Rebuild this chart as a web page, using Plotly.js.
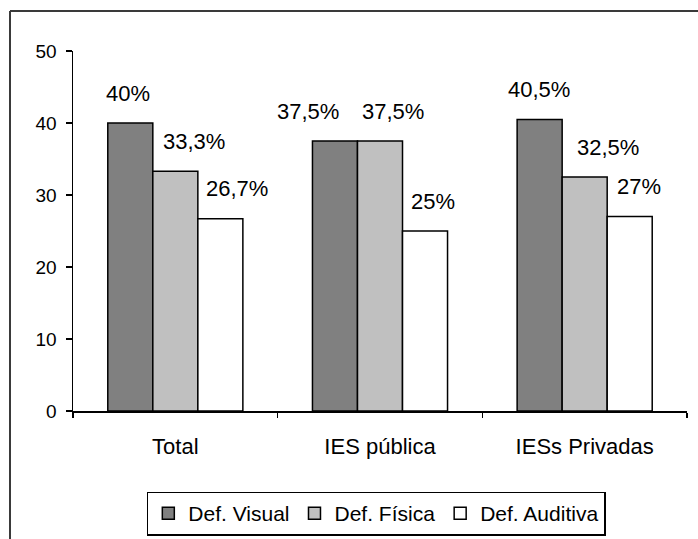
<!DOCTYPE html>
<html>
<head>
<meta charset="utf-8">
<script src="https://cdn.plot.ly/plotly-3.0.1.min.js"></script>
<style>html,body{margin:0;padding:0;background:#fff;}#chart{width:698px;height:539px;}</style>
</head>
<body>
<div id="chart"></div>
<script>
var categories = ["Total", "IES pública", "IESs Privadas"];
var seriesNames = ["Def. Visual", "Def. Física", "Def. Auditiva"];
var defVisual = [40, 37.5, 40.5];
var defFisica = [33.3, 37.5, 32.5];
var defAuditiva = [26.7, 25, 27];
var yTicks = [0, 10, 20, 30, 40, 50];

// styling
var colors = ["#808080", "#c0c0c0", "#ffffff"];
var labelNudge = [[-2, -27, -1], [19, 13, 23], [17, 8, 9]];
var FONT = "Liberation Sans, Arial, sans-serif";

var allSeries = [defVisual, defFisica, defAuditiva];
var traces = allSeries.map(function (vals, i) {
  return {
    type: "bar", name: seriesNames[i], x: categories, y: vals,
    marker: { color: colors[i], line: { color: "#000", width: 1.5 } },
    hoverinfo: "skip"
  };
});

function fmt(v) { return String(v).replace(".", ",") + "%"; }

var barPx = 45;
var annotations = [];
allSeries.forEach(function (vals, i) {
  vals.forEach(function (v, j) {
    annotations.push({
      x: categories[j], y: v, xref: "x", yref: "y", text: fmt(v), showarrow: false,
      xanchor: "center", yanchor: "middle",
      xshift: (i - 1) * barPx + labelNudge[i][j], yshift: 30,
      font: { family: FONT, size: 22, color: "#000" }
    });
  });
});

var layout = {
  width: 698, height: 539,
  margin: { l: 73, r: 11, t: 51, b: 128, autoexpand: false },
  paper_bgcolor: "#fff", plot_bgcolor: "#fff",
  barmode: "group", bargap: 0.34, bargroupgap: 0,
  showlegend: true,
  legend: {
    orientation: "h", x: 0.494, xanchor: "center", y: -0.224, yanchor: "top",
    bordercolor: "#000", borderwidth: 1.5, bgcolor: "#fff",
    font: { family: FONT, size: 21, color: "#000" }, traceorder: "normal",
    itemwidth: 30
  },
  xaxis: {
    type: "category", showline: true, linecolor: "#000", linewidth: 1.5, automargin: false,
    ticks: "outside", tickson: "boundaries", ticklen: 5, tickcolor: "#000", tickwidth: 1.5,
    showgrid: false, zeroline: false, ticklabelstandoff: 15,
    tickfont: { family: FONT, size: 22, color: "#000" }
  },
  yaxis: {
    range: [0, 50], tickvals: yTicks, showline: true, linecolor: "#000", linewidth: 1.5, automargin: false,
    ticks: "outside", ticklen: 6, tickcolor: "#000", tickwidth: 1.5,
    showgrid: false, zeroline: false, ticklabelstandoff: 5,
    tickfont: { family: FONT, size: 19, color: "#000" }
  },
  annotations: annotations,
  shapes: [
    { type: "line", xref: "paper", yref: "paper", x0: -0.1026, x1: -0.1026, y0: 1.111, y1: -0.4, line: { color: "#3a3a3a", width: 2 } },
    { type: "line", xref: "paper", yref: "paper", x0: -0.1026, x1: 1.05, y0: 1.111, y1: 1.111, line: { color: "#3a3a3a", width: 2 } }
  ]
};

Plotly.newPlot("chart", traces, layout, { displayModeBar: false, staticPlot: true });
</script>
</body>
</html>
